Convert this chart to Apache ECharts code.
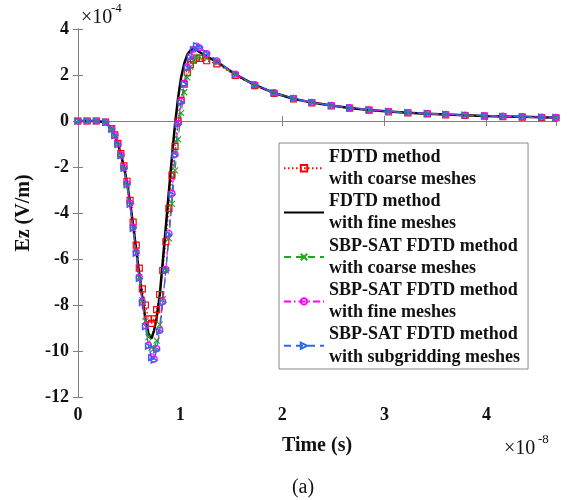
<!DOCTYPE html>
<html>
<head>
<meta charset="utf-8">
<style>
  html, body { margin: 0; padding: 0; background: #fff; }
  #chart { width: 568px; height: 500px; }
</style>
<script src="https://cdn.jsdelivr.net/npm/echarts@6/dist/echarts.min.js"></script>
</head>
<body>
<div id="chart"></div>
<script>
// time in units of 1e-8 s, field in units of 1e-4 V/m
var time = [0, 0.09, 0.18, 0.27, 0.33, 0.36, 0.39, 0.42, 0.45, 0.48, 0.51, 0.54, 0.57, 0.60,
  0.63, 0.66, 0.69, 0.72, 0.745, 0.77, 0.80, 0.83, 0.86, 0.89, 0.92, 0.95, 0.98, 1.01, 1.04,
  1.07, 1.10, 1.13, 1.16, 1.19, 1.26, 1.36, 1.54, 1.73, 1.92, 2.11, 2.29, 2.48, 2.66, 2.85,
  3.04, 3.23, 3.42, 3.60, 3.79, 3.98, 4.16, 4.35, 4.54, 4.68]

var fdtdCoarse = [0, 0, 0, -0.05, -0.33, -0.6, -0.97, -1.42, -1.95, -2.62, -3.45, -4.4, -5.4, -6.4,
  -7.3, -8.0, -8.6, -8.8, -8.6, -8.2, -7.55, -6.5, -5.25, -3.8, -2.35, -1.1, 0.0, 0.9, 1.6,
  2.1, 2.45, 2.65, 2.73, 2.72, 2.62, 2.48, 1.98, 1.54, 1.2, 0.96, 0.79, 0.66, 0.56, 0.47,
  0.40, 0.35, 0.31, 0.27, 0.24, 0.21, 0.19, 0.17, 0.15, 0.14]

var fdtdFine = [0, 0, 0, -0.05, -0.35, -0.62, -1.0, -1.45, -2.0, -2.7, -3.55, -4.55, -5.6, -6.7,
  -7.7, -8.6, -9.25, -9.45, -9.1, -8.55, -7.6, -6.1, -4.6, -3.05, -1.55, -0.15, 1.0, 1.9, 2.5,
  2.88, 3.07, 3.13, 3.1, 3.0, 2.8, 2.58, 2.03, 1.57, 1.22, 0.97, 0.80, 0.67, 0.57, 0.48,
  0.41, 0.36, 0.32, 0.28, 0.25, 0.22, 0.20, 0.18, 0.16, 0.15]

var sbpCoarse = [0, 0, 0, -0.06, -0.37, -0.65, -1.05, -1.52, -2.08, -2.8, -3.65, -4.7, -5.75, -6.8,
  -7.8, -8.7, -9.4, -9.85, -9.9, -9.55, -8.85, -7.75, -6.5, -5.1, -3.6, -2.15, -0.8, 0.35, 1.25,
  1.9, 2.35, 2.62, 2.76, 2.8, 2.72, 2.53, 2.0, 1.55, 1.2, 0.96, 0.79, 0.66, 0.56, 0.47,
  0.40, 0.35, 0.31, 0.27, 0.24, 0.21, 0.19, 0.17, 0.15, 0.14]

var sbpFine = [0, 0, 0, -0.05, -0.34, -0.62, -1.0, -1.48, -2.03, -2.73, -3.58, -4.62, -5.7, -6.8,
  -7.85, -8.9, -9.75, -10.25, -10.35, -9.9, -9.1, -7.85, -6.45, -4.9, -3.15, -1.45, -0.1, 0.85, 1.65,
  2.35, 2.8, 3.12, 3.26, 3.18, 2.93, 2.61, 2.04, 1.58, 1.23, 0.98, 0.81, 0.68, 0.58, 0.49,
  0.42, 0.37, 0.33, 0.29, 0.26, 0.23, 0.21, 0.19, 0.17, 0.16]

var sbpSub = [0, 0, 0, -0.05, -0.35, -0.63, -1.0, -1.5, -2.05, -2.75, -3.6, -4.65, -5.75, -6.85,
  -7.9, -8.95, -9.8, -10.3, -10.4, -9.95, -9.15, -7.9, -6.5, -4.95, -3.2, -1.5, -0.15, 0.8, 1.6,
  2.3, 2.75, 3.1, 3.27, 3.2, 2.95, 2.62, 2.04, 1.58, 1.23, 0.98, 0.81, 0.68, 0.58, 0.49,
  0.42, 0.37, 0.33, 0.29, 0.26, 0.23, 0.21, 0.19, 0.17, 0.16]

var names = [
  'FDTD method\nwith coarse meshes',
  'FDTD method\nwith fine meshes',
  'SBP-SAT FDTD method\nwith coarse meshes',
  'SBP-SAT FDTD method\nwith fine meshes',
  'SBP-SAT FDTD method\nwith subgridding meshes'
]
var xTicks = [0, 1, 2, 3, 4]
var yTicks = [-12, -10, -8, -6, -4, -2, 0, 2, 4]

var serif = 'Liberation Serif'
var axisGray = '#808080'
var ink = '#111'

function pairs (vals) {
  return time.map(function (t, i) { return [t, vals[i]] })
}

function markerSeries (name, vals, color, dash, width, symbol) {
  return {
    name: name,
    type: 'line',
    data: pairs(vals),
    symbol: symbol,
    symbolSize: 6,
    showAllSymbol: true,
    clip: true,
    lineStyle: { color: color, width: width, type: dash },
    itemStyle: { color: 'transparent', borderColor: color, borderWidth: 1.2 },
    emphasis: { disabled: true }
  }
}

var chart = echarts.init(document.getElementById('chart'), null, { renderer: 'canvas' })
chart.setOption({
  animation: false,
  grid: { left: 78, top: 29, right: 12, bottom: 103 },
  xAxis: [{
    type: 'value',
    min: 0,
    max: 4.68,
    interval: 1,
    name: 'Time (s)',
    nameLocation: 'middle',
    nameGap: 39,
    nameTextStyle: { fontFamily: serif, fontSize: 20, fontWeight: 'bold', color: ink },
    axisLine: { lineStyle: { color: axisGray, width: 1 } },
    axisTick: { inside: true, length: 5, lineStyle: { color: axisGray } },
    axisLabel: {
      margin: 9,
      fontFamily: serif,
      fontSize: 18,
      fontWeight: 'bold',
      color: ink,
      formatter: function (v) { return xTicks.indexOf(v) >= 0 ? String(v) : '' }
    },
    splitLine: { show: false }
  }, {
    type: 'value',
    position: 'top',
    min: 0,
    max: 4.68,
    interval: 1,
    axisLine: { lineStyle: { color: axisGray, width: 1 } },
    axisTick: { inside: true, length: 5, lineStyle: { color: axisGray } },
    axisLabel: { show: false },
    splitLine: { show: false }
  }],
  yAxis: [{
    type: 'value',
    min: -12,
    max: 4,
    interval: 2,
    name: 'Ez (V/m)',
    nameLocation: 'middle',
    nameGap: 38,
    nameTextStyle: { fontFamily: serif, fontSize: 20, fontWeight: 'bold', color: ink },
    axisLine: { show: true, lineStyle: { color: axisGray, width: 1 } },
    axisTick: { show: true, inside: true, length: 5, lineStyle: { color: axisGray } },
    axisLabel: {
      margin: 9,
      fontFamily: serif,
      fontSize: 18,
      fontWeight: 'bold',
      color: ink,
      formatter: function (v) { return yTicks.indexOf(v) >= 0 ? String(v) : '' }
    },
    splitLine: { show: false }
  }, {
    type: 'value',
    position: 'right',
    min: -12,
    max: 4,
    interval: 2,
    axisLine: { show: true, lineStyle: { color: axisGray, width: 1 } },
    axisTick: { show: true, inside: true, length: 5, lineStyle: { color: axisGray } },
    axisLabel: { show: false },
    splitLine: { show: false }
  }],
  legend: {
    orient: 'vertical',
    left: 279,
    top: 143,
    padding: [3, 8, 1, 4],
    itemGap: 0,
    itemWidth: 40,
    itemHeight: 8,
    backgroundColor: '#fff',
    borderColor: '#888',
    borderWidth: 1,
    textStyle: { fontFamily: serif, fontSize: 18, fontWeight: 'bold', lineHeight: 22.2, color: ink },
    data: [
      { name: names[0] },
      { name: names[1], itemStyle: { opacity: 0 } },
      { name: names[2] },
      { name: names[3] },
      { name: names[4] }
    ]
  },
  series: [
    markerSeries(names[0], fdtdCoarse, '#ff0000', [1.5, 2.5], 1.3, 'rect'),
    {
      name: names[1],
      type: 'line',
      data: pairs(fdtdFine),
      symbol: 'none',
      lineStyle: { color: '#000', width: 2.5 },
      itemStyle: { color: '#000' },
      emphasis: { disabled: true }
    },
    markerSeries(names[2], sbpCoarse, '#1fa81f', [7, 5], 1.2, 'path://M0,0L10,10M10,0L0,10'),
    markerSeries(names[3], sbpFine, '#ff00ff', [7, 3, 1.5, 3], 1.2, 'circle'),
    markerSeries(names[4], sbpSub, '#2b6be8', [7, 5], 1.2, 'path://M0,0L10,5L0,10Z')
  ],
  graphic: [
    { type: 'text', style: { x: 81, y: 18, text: '×10', fontFamily: serif, fontSize: 20, fill: ink, textVerticalAlign: 'middle' } },
    { type: 'text', style: { x: 111, y: 9, text: '-4', fontFamily: serif, fontSize: 13, fill: ink, textVerticalAlign: 'middle' } },
    { type: 'text', style: { x: 504, y: 449, text: '×10', fontFamily: serif, fontSize: 20, fill: ink, textVerticalAlign: 'middle' } },
    { type: 'text', style: { x: 538, y: 440, text: '-8', fontFamily: serif, fontSize: 13, fill: ink, textVerticalAlign: 'middle' } },
    { type: 'text', style: { x: 303, y: 488, text: '(a)', fontFamily: serif, fontSize: 20, fill: ink, textAlign: 'center', textVerticalAlign: 'middle' } }
  ]
})
</script>
</body>
</html>
